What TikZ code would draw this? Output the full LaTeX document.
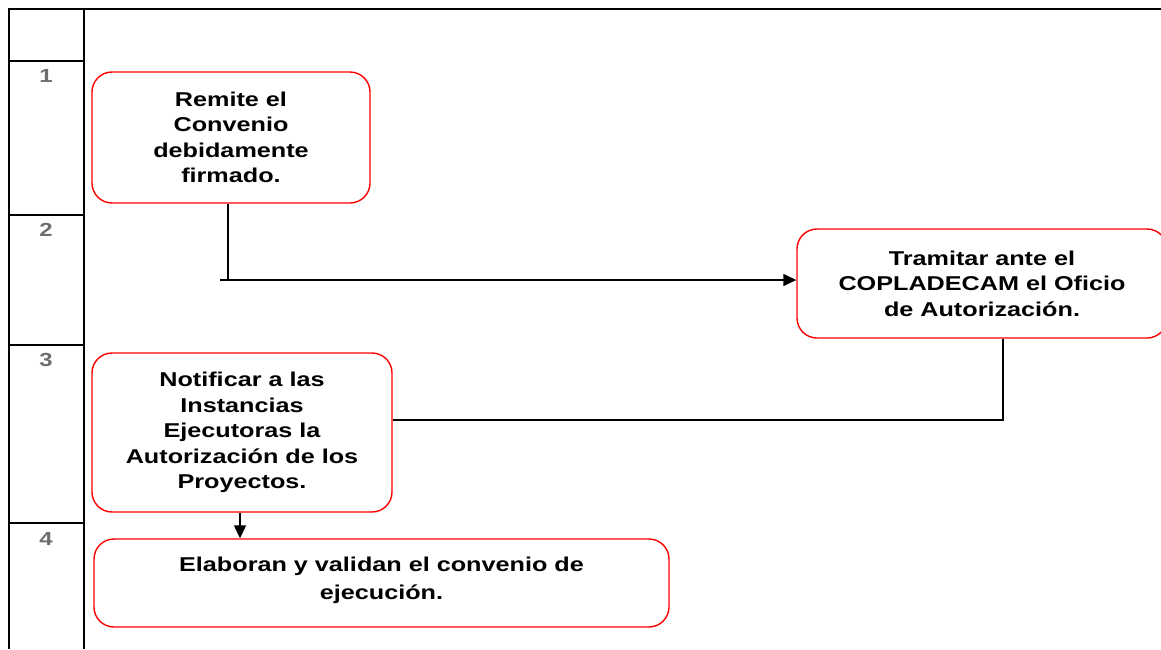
\documentclass[tikz,border=0pt]{standalone}
\usepackage{fontspec}
\setmainfont{Liberation Sans}[FakeStretch=1.26]
\usetikzlibrary{arrows.meta}
\definecolor{numgray}{HTML}{6E6E6E}
\begin{document}
\begin{tikzpicture}[x=1pt,y=-1pt,
  grid/.style={line width=2pt,black},
  stepbox/.style={draw=red,line width=1.4pt,rounded corners=20pt,inner sep=0pt,
    align=center,font=\fontsize{20}{25.5}\selectfont\bfseries},
  num/.style={font=\fontsize{19}{22}\selectfont\bfseries,text=numgray,anchor=base,inner sep=0pt},
  conn/.style={line width=1.4pt,black},
  arr/.style={conn,-{Triangle[length=13pt,width=12pt]}}]
\useasboundingbox (0,0) rectangle (1161,649);
% table
\draw[grid] (9,649) -- (9,9) -- (1162,9);
\draw[grid] (84,9) -- (84,649);
\foreach \yy in {61,215,345,523} \draw[grid] (9,\yy) -- (84,\yy);
\node[num] (n1) at (46,82) {1};
\node[num] (n2) at (46,236) {2};
\node[num] (n3) at (46,366) {3};
\node[num] (n4) at (46,545) {4};
% boxes
\node[stepbox,minimum width=278pt,minimum height=131pt] (b1) at (231,137.5)
  {Remite el\\Convenio\\debidamente\\firmado.};
\node[stepbox,minimum width=370pt,minimum height=109pt] (b2) at (982,283.5)
  {Tramitar ante el\\COPLADECAM el Oficio\\de Autorización.};
\node[stepbox,minimum width=300pt,minimum height=159pt] (b3) at (242,432.5)
  {Notificar a las\\Instancias\\Ejecutoras la\\Autorización de los\\Proyectos.};
\node[stepbox,minimum width=575pt,minimum height=88pt,font=\fontsize{20}{28}\selectfont\bfseries] (b4) at (381.5,583)
  {Elaboran y validan el convenio de\\ejecución.\\[-18pt]};
% connectors
\coordinate (j1) at (228,280);
\coordinate (j1s) at (220,280);
\coordinate (j2) at (1003,420);
\coordinate (j3) at (240,512);
\draw[conn] (b1.south -| j1) -- (j1);
\draw[arr] (j1s) -- (b2.west |- j1);
\draw[conn] (b2.south -| j2) -- (j2) -- (b3.east |- j2);
\draw[arr] (b3.south -| j3) -- (b4.north -| j3);
\end{tikzpicture}
\end{document}
